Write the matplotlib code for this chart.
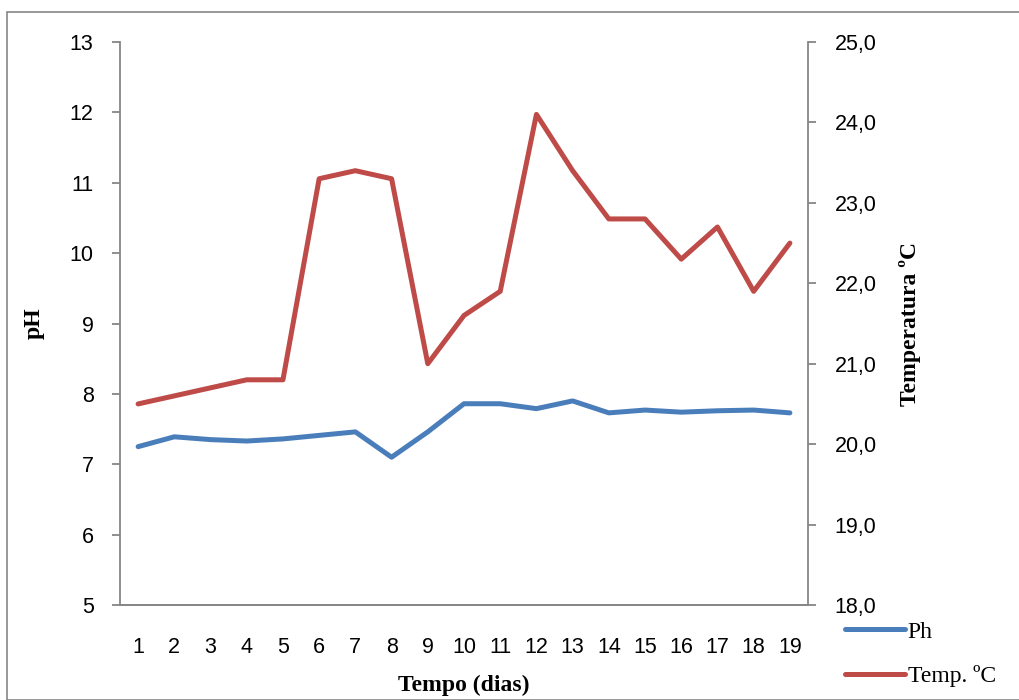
import matplotlib
matplotlib.use('Agg')
import matplotlib.pyplot as plt
from matplotlib.patches import Rectangle

dias = list(range(1, 20))
ph = [7.25, 7.39, 7.35, 7.33, 7.36, 7.41, 7.46, 7.10, 7.46, 7.86,
      7.86, 7.79, 7.90, 7.73, 7.77, 7.74, 7.76, 7.77, 7.73]
temp = [20.5, 20.6, 20.7, 20.8, 20.8, 23.3, 23.4, 23.3, 21.0, 21.6,
        21.9, 24.1, 23.4, 22.8, 22.8, 22.3, 22.7, 21.9, 22.5]

ph_ticks = list(range(5, 14))
temp_ticks = [18, 19, 20, 21, 22, 23, 24, 25]

blue = '#4a7ebb'
red = '#be4b48'
gray = '#868686'
tick_font = 'Liberation Sans'
title_font = 'Liberation Serif'

fig = plt.figure(figsize=(10.19, 7.0), dpi=100)
ax = fig.add_axes([120 / 1019, 1 - 605 / 700, 688 / 1019, 563 / 700])
ax2 = ax.twinx()

l1, = ax.plot(dias, ph, color=blue, lw=3.6, solid_capstyle='round', label='Ph')
l2, = ax2.plot(dias, temp, color=red, lw=3.6, solid_capstyle='round', label='Temp. ºC')

ax.set_xlim(0.5, 19.5)
ax.set_ylim(5, 13)
ax2.set_ylim(18, 25)
ax.set_yticks(ph_ticks)
ax2.set_yticks(temp_ticks)
ax2.set_yticklabels([f'{t:.1f}'.replace('.', ',') for t in temp_ticks])
ax.set_xticks(dias)
ax.set_xticklabels([str(d) for d in dias])

for a in (ax, ax2):
    for s in a.spines.values():
        s.set_color(gray)
        s.set_linewidth(1.3)
    a.spines['top'].set_visible(False)
    a.tick_params(colors=gray, labelcolor='black', labelsize=15.5, width=1.3, length=6)
    for lab in a.get_yticklabels() + a.get_xticklabels():
        lab.set_fontfamily(tick_font)
ax.spines['right'].set_visible(False)
ax2.spines['left'].set_visible(False)
ax.tick_params(axis='x', length=0, pad=23)
ax.tick_params(axis='y', pad=13)
ax2.tick_params(axis='y', pad=13)

ax.set_ylabel('pH', fontfamily=title_font, fontweight='bold', fontsize=17, labelpad=18)
ax2.set_ylabel('Temperatura ºC', fontfamily=title_font, fontweight='bold', fontsize=17, labelpad=16)
ax.set_xlabel('Tempo (dias)', fontfamily=title_font, fontweight='bold', fontsize=17, labelpad=12)

fig.legend(handles=[l1, l2], loc='upper left', bbox_to_anchor=(845 / 1019, 1 - 621 / 700),
           frameon=False, prop={'family': title_font, 'size': 17},
           handlelength=2.55, handletextpad=0.1, labelspacing=0.97,
           borderaxespad=0, borderpad=0)

# border around the whole chart
fig.patches.append(Rectangle((7 / 1019, 0), 1, 1 - 12 / 700, transform=fig.transFigure,
                             fill=False, edgecolor=gray, lw=1.2))

fig.savefig('out.png', dpi=100)
